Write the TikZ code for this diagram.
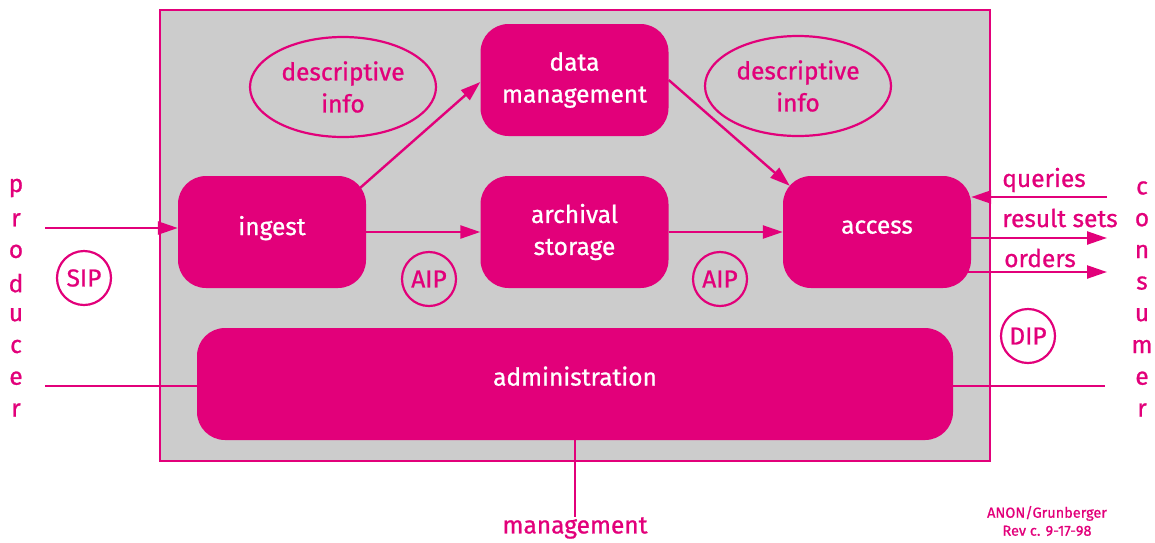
\documentclass[tikz,border=0pt]{standalone}
\usepackage{fontspec}
\setmainfont{Fira Sans}[FakeBold=0.9]
\usepackage{xcolor}
\usepackage{tikz}
\usetikzlibrary{calc,arrows.meta,positioning,shapes.geometric}
\definecolor{oaism}{HTML}{E2007A}
\definecolor{oaisbg}{HTML}{CCCCCC}
\tikzset{
  ar/.style={-{Triangle[length=20pt,width=13pt]},line width=2.4pt,oaism},
  ln/.style={line width=2.4pt,oaism},
  fn/.style={fill=oaism,rounded corners=28pt,minimum width=188pt,minimum height=112pt,
    text=white,align=center,font=\fontsize{24.5}{32}\selectfont},
  oneline/.style={text depth=#1},
  infobubble/.style={ellipse,draw=oaism,line width=2.2pt,minimum width=186pt,minimum height=100pt,
    text=oaism,align=center,font=\fontsize{24.5}{32}\selectfont},
  pkg/.style={circle,draw=oaism,line width=2.2pt,minimum size=54pt,inner sep=0pt,
    text=oaism,font=\fontsize{24.5}{27}\selectfont},
  lbl/.style={text=oaism,inner sep=0pt,font=\fontsize{24.5}{27}\selectfont}
}

\begin{document}
\begin{tikzpicture}[x=1pt,y=-1pt]
\useasboundingbox (0,0) rectangle (1155,542);
% archive boundary
\draw[oaism,line width=2.4pt,fill=oaisbg] (160,10) rectangle (990,461);

% functional entities
\node[fn] (dm) at (574.5,80) {data\\management};
\node[fn,oneline=13pt] (ingest) at (272,232) {ingest};
\node[fn] (store) at (574.5,232) {archival\\storage};
\node[fn,oneline=10pt] (access) at (877,232) {access};
\node[fn,oneline=16pt,minimum width=756pt] (admin) at (575,384) {administration};

\node[infobubble] (infoL) at (343,87) {descriptive\\info};
\node[infobubble] (infoR) at (798,86) {descriptive\\info};

% information packages
\node[pkg] (sip) at (84,278) {SIP};
\node[pkg] (aip1) at (429,279) {AIP};
\node[pkg] (aip2) at (720,279) {AIP};
\node[pkg] (dip) at (1028,336) {DIP};

% producer / consumer, one letter per line
\foreach \ch [count=\i] in {p,r,o,d,u,c,e,r}
  \node[lbl] (prod\i) at (16,{188+31.7*(\i-1)}) {\ch};
\foreach \ch [count=\i] in {c,o,n,s,u,m,e,r}
  \node[lbl] (cons\i) at (1142,{188+31.7*(\i-1)}) {\ch};

\coordinate (prodin) at (45,228);
\coordinate (prodadm) at (45,386);
\coordinate (consadm) at (1105,386);
\coordinate (qin) at (1107,197);
\coordinate (rsout) at (1107,238);
\coordinate (ordout) at (1107,272);

% flows
\draw[ar] (prodin) -- (prodin -| ingest.west);
\draw[ar] ([shift={(-6pt,-12pt)}]ingest.north east) -- ([yshift=-2pt]dm.west);
\draw[ar] (ingest.east) -- (store.west);
\draw[ar] (store.east) -- (access.west);
\draw[ar] (dm.east) -- ([shift={(7pt,-10pt)}]access.north west);
\draw[ar] (qin) -- (qin -| access.east);
\draw[ar] (rsout -| access.east) -- (rsout);
\draw[ar] ($(ordout -| access.east)+(-11,0)$) -- (ordout);

\node[lbl] (qlbl) at (1044,180) {queries};
\node[lbl] (rslbl) at (1060,218) {result sets};
\node[lbl] (ordlbl) at (1040,258) {orders};

% administration links
\node[lbl] (mgmt) at (575,528) {management};
\draw[ln] (prodadm) -- (prodadm -| admin.west);
\draw[ln] (admin.east |- consadm) -- (consadm);
\draw[ln] (admin.south) -- (mgmt.north);

\node[lbl,font=\fontsize{14.5}{18}\selectfont,align=center] (rev) at (1047,521) {ANON/Grunberger\\Rev c. 9-17-98};
\end{tikzpicture}
\end{document}
